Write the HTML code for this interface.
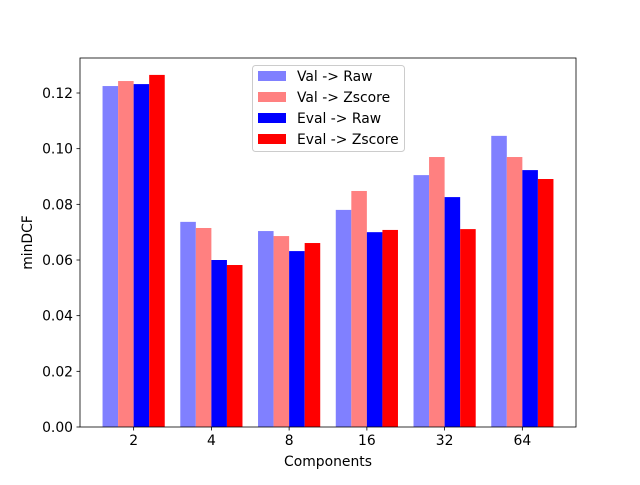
<!DOCTYPE html>
<html><head><meta charset="utf-8"><style>
body{margin:0;background:#fff}
svg text{font-family:"DejaVu Sans","Liberation Sans",sans-serif;font-size:13.9px;fill:#000}
</style></head><body>
<svg id="chart" width="640" height="480" viewBox="0 0 640 480">
<rect x="0" y="0" width="640" height="480" fill="#fff"/>
<g id="bars"></g>
<g id="axes"></g>
</svg>
<script>
const categories = ["2","4","8","16","32","64"];
const seriesNames = ["Val -> Raw","Val -> Zscore","Eval -> Raw","Eval -> Zscore"];
const valRaw = [0.1225,0.0737,0.0704,0.0780,0.0905,0.1046];
const valZ = [0.1243,0.0715,0.0686,0.0848,0.0970,0.0970];
const evalRaw = [0.1232,0.0600,0.0632,0.0700,0.0826,0.0923];
const evalZ = [0.1265,0.0582,0.0661,0.0708,0.0711,0.0891];
const yTicks = [0,0.02,0.04,0.06,0.08,0.10,0.12];
const yTickLabels = ["0.00","0.02","0.04","0.06","0.08","0.10","0.12"];
const colors = ["#8080ff","#ff8080","#0000ff","#ff0000"];
const series = [valRaw,valZ,evalRaw,evalZ];

const NS="http://www.w3.org/2000/svg";
const L=80,R=576,T=58,B=427;
const xmin=-0.4-0.29,xmax=categories.length-1+0.4+0.29;
const ymax=(B-T)/2783.3;
const xs=v=>L+(v-xmin)/(xmax-xmin)*(R-L);
const ys=v=>B-v/ymax*(B-T);
function mk(tag,attrs,parent){const e=document.createElementNS(NS,tag);for(const k in attrs)e.setAttribute(k,attrs[k]);parent.appendChild(e);return e;}
const gb=document.getElementById('bars'),ga=document.getElementById('axes');
const bw=0.2;
series.forEach((s,si)=>{
  s.forEach((v,i)=>{
    const c=i+(si-1.5)*bw;
    const r=mk('rect',{x:xs(c-bw/2),y:ys(v),width:xs(c+bw/2)-xs(c-bw/2),height:ys(0)-ys(v),fill:colors[si]},gb);
    
    
  });
});
mk('rect',{x:L,y:T,width:R-L,height:B-T,fill:'none',stroke:'#000','stroke-width':0.8},ga);
categories.forEach((c,i)=>{
  const x=xs(i);
  mk('line',{x1:x,x2:x,y1:B,y2:B+3.5,stroke:'#000','stroke-width':0.8},ga);
  const t=mk('text',{x:x,y:B+18,'text-anchor':'middle'},ga);t.textContent=c;
  
  
});
yTicks.forEach((v,i)=>{
  const y=ys(v);
  mk('line',{x1:L-3.5,x2:L,y1:y,y2:y,stroke:'#000','stroke-width':0.8},ga);
  const t=mk('text',{x:L-7,y:y+5,'text-anchor':'end'},ga);t.textContent=yTickLabels[i];
  
  
});
const xt=mk('text',{x:(L+R)/2,y:466,'text-anchor':'middle'},ga);xt.textContent="Components";


const yt=mk('text',{x:0,y:0,'text-anchor':'middle',transform:'translate(32,'+((T+B)/2)+') rotate(-90)'},ga);yt.textContent="minDCF";


const lg=mk('g',{},ga);


mk('rect',{x:252.5,y:65.5,width:152,height:86,rx:3,fill:'#fff','fill-opacity':0.8,stroke:'#ccc'},lg);
seriesNames.forEach((n,i)=>{
  const y=76+i*21;
  mk('rect',{x:258,y:y-5,width:28,height:10,fill:colors[i]},lg);
  const t=mk('text',{x:297,y:y+5},lg);t.textContent=n;
  
  
});
</script>
</body></html>
